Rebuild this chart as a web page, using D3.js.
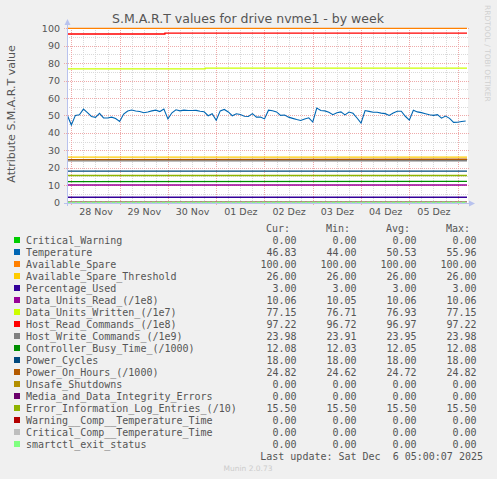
<!DOCTYPE html>
<html lang="en">
<head>
<meta charset="UTF-8">
<title>S.M.A.R.T values for drive nvme1 - by week</title>
<style>
  body { margin: 0; background: #f0f0f0; }
  svg { display: block; }
</style>
</head>
<body>
<script src="https://d3js.org/d3.v7.min.js"></script>
<script>
	// time span shown (UTC)
	let timeStart = '2025-11-27T21:50:00Z';
	let timeEnd = '2025-12-06T04:40:00Z';

	// temperature, one reading every 2 hours starting at tempStart
	let tempStart = '2025-11-27T22:00:00Z';
	let tempStepHours = 2;
	let temperature = [
		50.1, 44.5, 50.0, 50.4, 53.6, 51.6, 49.4, 48.9, 51.2, 48.6,
		48.5, 49.0, 48.2, 46.5, 50.8, 52.5, 53.1, 52.5, 52.2, 51.5,
		52.0, 52.6, 53.0, 52.2, 53.6, 48.0, 51.5, 53.2, 52.6, 53.0,
		52.8, 52.8, 52.9, 52.4, 52.1, 49.8, 50.9, 47.2, 52.6, 53.4,
		52.0, 49.8, 50.9, 50.5, 49.5, 49.4, 51.0, 49.0, 49.1, 48.0,
		53.0, 52.7, 52.0, 50.0, 50.2, 49.0, 48.3, 47.6, 47.1, 47.9,
		48.6, 46.2, 54.2, 52.8, 52.6, 51.8, 50.4, 51.5, 52.0, 50.3,
		51.9, 51.2, 48.5, 45.6, 52.8, 52.3, 51.8, 51.8, 51.3, 51.0,
		50.0, 51.4, 52.4, 52.4, 49.5, 47.3, 53.0, 52.0, 51.6, 51.0,
		50.4, 50.0, 50.4, 48.4, 49.6, 48.3, 46.0, 46.1, 46.5, 46.83
	];

	// x labels, centred on noon of each day
	let dayTicks = ['2025-11-28', '2025-11-29', '2025-11-30', '2025-12-01', '2025-12-02', '2025-12-03', '2025-12-04', '2025-12-05'];
	let dayLabels = ['28 Nov', '29 Nov', '30 Nov', '01 Dez', '02 Dez', '03 Dez', '04 Dez', '05 Dez'];
	let yTicks = [0, 10, 20, 30, 40, 50, 60, 70, 80, 90, 100];

	let names = ['Critical_Warning', 'Temperature', 'Available_Spare', 'Available_Spare_Threshold', 'Percentage_Used',
		'Data_Units_Read_(/1e8)', 'Data_Units_Written_(/1e7)', 'Host_Read_Commands_(/1e8)', 'Host_Write_Commands_(/1e9)',
		'Controller_Busy_Time_(/1000)', 'Power_Cycles', 'Power_On_Hours_(/1000)', 'Unsafe_Shutdowns',
		'Media_and_Data_Integrity_Errors', 'Error_Information_Log_Entries_(/10)', 'Warning__Comp__Temperature_Time',
		'Critical_Comp__Temperature_Time', 'smartctl_exit_status'];
	let colors = ['#00cc00', '#0066b3', '#ff8000', '#ffcc00', '#330099', '#990099', '#ccff00', '#ff0000', '#808080',
		'#008f00', '#00487d', '#b35a00', '#b38f00', '#6b006b', '#8fb300', '#b30000', '#bebebe', '#80ff80'];
	let curValues = [0, 46.83, 100, 26, 3, 10.06, 77.15, 97.22, 23.98, 12.08, 18, 24.82, 0, 0, 15.5, 0, 0, 0];
	let minValues = [0, 44.00, 100, 26, 3, 10.05, 76.71, 96.72, 23.91, 12.03, 18, 24.62, 0, 0, 15.5, 0, 0, 0];
	let avgValues = [0, 50.53, 100, 26, 3, 10.06, 76.93, 96.97, 23.95, 12.05, 18, 24.72, 0, 0, 15.5, 0, 0, 0];
	let maxValues = [0, 55.96, 100, 26, 3, 10.06, 77.15, 97.22, 23.98, 12.08, 18, 24.82, 0, 0, 15.5, 0, 0, 0];
	// where a counter jumps from Min to Cur (null = slow drift)
	let stepTimes = [null, null, null, null, null, null, '2025-11-30T18:30:00Z', '2025-11-29T22:30:00Z',
		null, null, null, null, null, null, null, null, null, null];

	let width = 497;
	let height = 479;
	let plot = { left: 67, right: 467, top: 28.3, bottom: 202.5 };

	let svg = d3.select('body').append('svg')
			.attr('width', width)
			.attr('height', height);

	svg.append('rect')
			.attr('width', width).attr('height', height)
			.attr('fill', '#f0f0f0');

	let t0 = new Date(timeStart), t1 = new Date(timeEnd);
	let xScale = d3.scaleUtc().domain([t0, t1]).range([plot.left, plot.right]);
	let yScale = d3.scaleLinear().domain([0, 100]).range([plot.bottom, plot.top]);

	// canvas
	svg.append('rect')
			.attr('x', plot.left).attr('y', 28)
			.attr('width', plot.right - plot.left + 1).attr('height', 175)
			.attr('fill', '#ffffff');

	let grid = svg.append('g').attr('shape-rendering', 'crispEdges');

	// minor grid
	let minorH = d3.range(5, 100, 10);
	grid.selectAll('.hmin').data(minorH).enter().append('line')
			.attr('x1', plot.left).attr('x2', plot.right + 1)
			.attr('y1', d => Math.round(yScale(d)) + 0.5).attr('y2', d => Math.round(yScale(d)) + 0.5)
			.attr('stroke', '#d9d9d9').attr('stroke-dasharray', '1,1');
	let minorV = d3.utcHour.every(6).range(t0, t1).filter(d => d.getUTCHours() !== 0);
	grid.selectAll('.vmin').data(minorV).enter().append('line')
			.attr('x1', d => Math.round(xScale(d)) + 0.5).attr('x2', d => Math.round(xScale(d)) + 0.5)
			.attr('y1', 28).attr('y2', 203)
			.attr('stroke', '#d9d9d9').attr('stroke-dasharray', '1,1');

	// major grid
	grid.selectAll('.hmaj').data(yTicks).enter().append('line')
			.attr('x1', plot.left - 3).attr('x2', plot.right + 2)
			.attr('y1', d => Math.round(yScale(d)) + 0.5).attr('y2', d => Math.round(yScale(d)) + 0.5)
			.attr('stroke', '#eeaaaa').attr('stroke-dasharray', '1,1');
	let majorV = d3.utcDay.range(t0, t1);
	grid.selectAll('.vmaj').data(majorV).enter().append('line')
			.attr('x1', d => Math.round(xScale(d)) + 0.5).attr('x2', d => Math.round(xScale(d)) + 0.5)
			.attr('y1', 28).attr('y2', 206)
			.attr('stroke', '#eeaaaa').attr('stroke-dasharray', '1,1');

	// series
	let line = d3.line()
			.x(d => xScale(d[0]))
			.y(d => yScale(d[1]));
	let tStep = new Date(tempStart);

	names.forEach(function(name, i) {
		let pts, curve = d3.curveLinear;
		if (i === 1) {
			pts = temperature.map((v, k) => [d3.utcHour.offset(tStep, k * tempStepHours), v]);
		} else if (stepTimes[i]) {
			pts = [[t0, minValues[i]], [new Date(stepTimes[i]), curValues[i]], [t1, curValues[i]]];
			curve = d3.curveStepAfter;
		} else {
			pts = [[t0, minValues[i]], [t1, curValues[i]]];
		}
		svg.append('path')
				.attr('d', line.curve(curve)(pts))
				.attr('fill', 'none')
				.attr('stroke', colors[i])
				.attr('stroke-width', i === 1 ? 1.1 : 1.3)
				.attr('stroke-dasharray', name === 'smartctl_exit_status' ? '3,2' : null);
	});

	// axes
	let axisColor = '#b8c2ee';
	svg.append('line')
			.attr('x1', plot.left + 0.5).attr('x2', plot.left + 0.5)
			.attr('y1', 206).attr('y2', 23)
			.attr('stroke', axisColor);
	svg.append('path')
			.attr('d', 'M' + (plot.left - 2.5) + ',25 L' + (plot.left + 3.5) + ',25 L' + (plot.left + 0.5) + ',19 Z')
			.attr('fill', axisColor);
	svg.append('line')
			.attr('x1', plot.left - 3).attr('x2', plot.right + 3)
			.attr('y1', 203.5).attr('y2', 203.5)
			.attr('stroke', axisColor);
	svg.append('path')
			.attr('d', 'M' + (plot.right + 2) + ',200.5 L' + (plot.right + 2) + ',206.5 L' + (plot.right + 8) + ',203.5 Z')
			.attr('fill', axisColor);

	// tick labels
	let yAxis = d3.axisLeft(yScale).tickValues(yTicks).tickSize(0).tickPadding(0);
	svg.append('g')
			.attr('transform', 'translate(60,0)')
			.call(yAxis)
			.call(g => g.select('.domain').remove())
			.selectAll('text')
			.attr('fill', '#555')
			.attr('font-family', 'DejaVu Sans')
			.attr('font-size', '9.5px');

	let xAxis = d3.axisBottom(xScale)
			.tickValues(dayTicks.map(d => d3.utcHour.offset(new Date(d + 'T00:00:00Z'), 12)))
			.tickFormat((d, i) => dayLabels[i])
			.tickSize(0).tickPadding(5);
	svg.append('g')
			.attr('transform', 'translate(0,203)')
			.call(xAxis)
			.call(g => g.select('.domain').remove())
			.selectAll('text')
			.attr('fill', '#555')
			.attr('font-family', 'DejaVu Sans')
			.attr('font-size', '9.5px');

	// title and labels
	svg.append('text')
			.attr('x', 248).attr('y', 23)
			.attr('text-anchor', 'middle')
			.attr('font-family', 'DejaVu Sans').attr('font-size', '12.5px')
			.attr('fill', '#555')
			.text('S.M.A.R.T values for drive nvme1 - by week');
	svg.append('text')
			.attr('transform', 'translate(15,114) rotate(-90)')
			.attr('text-anchor', 'middle')
			.attr('font-family', 'DejaVu Sans').attr('font-size', '11px')
			.attr('fill', '#555')
			.text('Attribute S.M.A.R.T value');
	svg.append('text')
			.attr('transform', 'translate(485,5) rotate(90)')
			.attr('font-family', 'DejaVu Sans').attr('font-size', '7.5px')
			.attr('fill', '#d0d0d0')
			.text('RRDTOOL / TOBI OETIKER');

	// legend
	let mono = 'DejaVu Sans Mono';
	let rowY = i => 240 + 12 * i;
	let heads = ['Cur:', 'Min:', 'Avg:', 'Max:'];
	let cols = [curValues, minValues, avgValues, maxValues];
	heads.forEach(function(h, c) {
		svg.append('text')
				.attr('x', 290 + 60 * c).attr('y', 228 + 3.5)
				.attr('text-anchor', 'end')
				.attr('font-family', mono).attr('font-size', '10px')
				.attr('fill', '#555')
				.text(h);
	});
	let legend = svg.append('g');
	let rows = legend.selectAll('g').data(names).enter().append('g');
	rows.append('rect')
			.attr('x', 14).attr('y', (d, i) => rowY(i) - 3)
			.attr('width', 6).attr('height', 6)
			.attr('fill', (d, i) => colors[i]);
	rows.append('text')
			.attr('x', 26).attr('y', (d, i) => rowY(i) + 3.5)
			.attr('font-family', mono).attr('font-size', '10px')
			.attr('fill', '#555')
			.text(d => d);
	cols.forEach(function(vals, c) {
		rows.append('text')
				.attr('x', 296.5 + 60 * c).attr('y', (d, i) => rowY(i) + 3.5)
				.attr('text-anchor', 'end')
				.attr('font-family', mono).attr('font-size', '10px')
				.attr('fill', '#555')
				.text((d, i) => vals[i].toFixed(2));
	});
	svg.append('text')
			.attr('x', 483).attr('y', rowY(18) + 3.5)
			.attr('text-anchor', 'end')
			.attr('font-family', mono).attr('font-size', '10px')
			.attr('fill', '#555')
			.style('white-space', 'pre')
			.text('Last update: Sat Dec  6 05:00:07 2025');
	svg.append('text')
			.attr('x', 248).attr('y', 471)
			.attr('text-anchor', 'middle')
			.attr('font-family', 'DejaVu Sans').attr('font-size', '7.5px')
			.attr('fill', '#cccccc')
			.text('Munin 2.0.73');
</script>
</body>
</html>
